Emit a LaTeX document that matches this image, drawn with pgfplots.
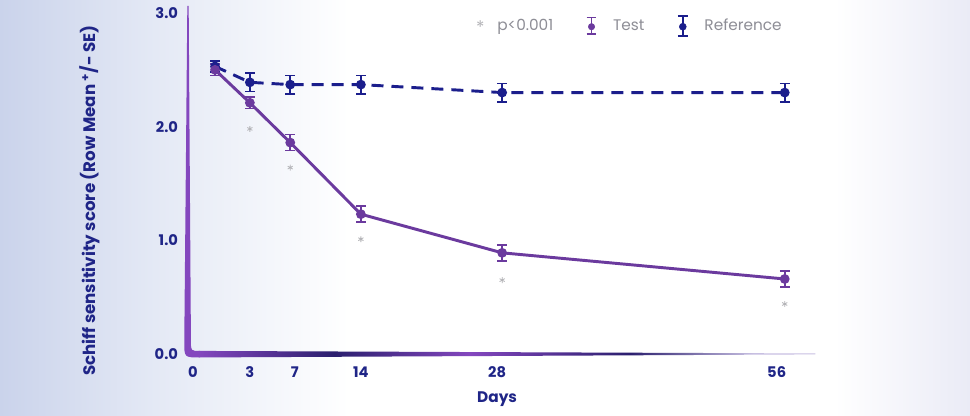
\documentclass[border=0pt]{standalone}
\usepackage{pgfplots}
\pgfplotsset{compat=1.18}
\usepackage{fontspec}
\setmainfont{Poppins}
\definecolor{navyc}{HTML}{1F2587}
\definecolor{testc}{HTML}{6B3A9E}
\definecolor{refc}{HTML}{1B1E8C}
\definecolor{axp}{HTML}{8447BE}
\definecolor{axn}{HTML}{2B1F6E}
\definecolor{axl}{HTML}{C8C0E2}
\definecolor{gtxt}{HTML}{8E8E96}
\definecolor{astc}{HTML}{B4B4B8}
\definecolor{bgl}{HTML}{CAD3EB}
\definecolor{bgm}{HTML}{E4E9F5}
\definecolor{bgr}{HTML}{EAEBF6}
\pgfdeclarehorizontalshading{bgshade}{100bp}{color(0bp)=(bgl); color(25bp)=(bgl); color(33bp)=(bgm); color(43bp)=(white); color(68bp)=(white); color(75bp)=(bgr); color(100bp)=(bgr)}
\pgfdeclarehorizontalshading{axshade}{100bp}{color(0bp)=(axp); color(25bp)=(axp); color(36bp)=(axn); color(47bp)=(axp); color(60bp)=(axn); color(70bp)=(axl); color(75bp)=(axl); color(100bp)=(axl)}
\pgfplotstableread{
x y e
-0.45 2.50 0.05
3 2.21 0.05
7 1.86 0.07
14 1.23 0.07
28 0.89 0.07
56 0.66 0.07
}\testdata
\pgfplotstableread{
x y e
-0.45 2.53 0.05
3 2.39 0.08
7 2.37 0.08
14 2.37 0.08
28 2.30 0.08
56 2.30 0.08
}\refdata
\pgfplotstableread{
x y
3 1.98
7 1.64
14 1.01
28 0.65
56 0.44
}\astdata
\begin{document}
\begin{tikzpicture}
\useasboundingbox (0,0) rectangle (727.5pt,312pt);
\shade[shading=bgshade] (0,0) rectangle (727.5pt,312pt);
% tapered axis lines
\begin{scope}[shift={(141pt,46.5pt)}]
\fill[axp] (-0.5pt,261pt) -- (-2.8pt,9pt) .. controls (-2.8pt,-2.6pt) .. (9pt,-2.6pt) -- (9pt,2.3pt) .. controls (2.2pt,2.3pt) .. (2.2pt,9pt) -- (0.5pt,261pt) -- cycle;
\shade[shading=axshade] (8pt,-2.6pt) -- (470.5pt,-0.3pt) -- (470.5pt,0.4pt) -- (8pt,2.3pt) -- cycle;
\end{scope}
\begin{axis}[
  at={(141pt,46.5pt)}, anchor=south west,
  scale only axis, width=470.25pt, height=255.75pt,
  xmin=-3.13, xmax=59.0, ymin=0, ymax=3.0,
  axis line style={draw=none},
  clip=false,
  major tick length=0pt,
  xtick={-2.64,3,7.45,14,27.5,55.2},
  xticklabels={0,3,7,14,28,56},
  ytick={0,1,2,3},
  yticklabels={0.0,1.0,2.0,3.0},
  xticklabel style={font=\bfseries\fontsize{11}{13}\selectfont, text=navyc, yshift=-6pt},
  yticklabel style={font=\bfseries\fontsize{11}{13}\selectfont, text=navyc, xshift=-4pt},
  xlabel={Days},
  xlabel style={font=\bfseries\fontsize{11.5}{13}\selectfont, text=navyc, at={(rel axis cs:0.493,0)}, anchor=center, yshift=-34pt},
  ylabel={Schiff sensitivity score (Row Mean \textsuperscript{+}/- SE)},
  ylabel style={font=\bfseries\fontsize{12.5}{15}\selectfont, text=navyc, at={(rel axis cs:-0.157,0.45)}, anchor=center, rotate=0},
  legend style={draw=none, fill=none, at={(rel axis cs:0.44,0.962)}, anchor=west,
    font=\fontsize{11.5}{13}\selectfont, text=gtxt,
    /tikz/every even column/.append style={column sep=21pt},
    legend cell align=left},
  legend columns=3,
]
\addlegendimage{legend image code/.code={\path[draw=none,fill=none] (0,-0.1cm) rectangle (0.7cm,0.1cm); \node[text=astc, inner sep=0pt, font=\fontsize{13}{14}\selectfont] at (0.2cm,-0.05cm) {*};}}
\addlegendentry{p<0.001}
\addlegendimage{legend image code/.code={\path[draw=none,fill=none] (0,-0.1cm) rectangle (0.7cm,0.1cm);
  \draw[testc, line width=1.2pt, solid] (0.2cm,-0.22cm) -- (0.2cm,0.22cm);
  \draw[testc, line width=1.2pt, solid] (0.07cm,0.22cm) -- (0.33cm,0.22cm);
  \draw[testc, line width=1.2pt, solid] (0.07cm,-0.22cm) -- (0.33cm,-0.22cm);
  \fill[testc] (0.2cm,-0.02cm) circle (2.4pt);}}
\addlegendentry{Test}
\addlegendimage{legend image code/.code={\path[draw=none,fill=none] (0,-0.1cm) rectangle (0.7cm,0.1cm);
  \draw[refc, line width=1.2pt, solid] (0.2cm,-0.26cm) -- (0.2cm,0.26cm);
  \draw[refc, line width=1.2pt, solid] (0.07cm,0.26cm) -- (0.33cm,0.26cm);
  \draw[refc, line width=1.2pt, solid] (0.07cm,-0.26cm) -- (0.33cm,-0.26cm);
  \fill[refc] (0.2cm,-0.02cm) circle (2.6pt);}}
\addlegendentry{Reference}
\addplot[refc, line width=2.2pt, dash pattern=on 9pt off 6pt, mark=*, mark size=2.5pt, mark options={solid},
  error bars/.cd, y dir=both, y explicit,
  error bar style={line width=1.3pt, solid},
  error mark options={rotate=90, mark size=3.6pt, line width=1.3pt, solid}]
  table[x=x, y=y, y error=e]{\refdata};
\addplot[testc, line width=2.2pt, mark=*, mark size=2.5pt,
  error bars/.cd, y dir=both, y explicit,
  error bar style={line width=1.3pt},
  error mark options={rotate=90, mark size=3.6pt, line width=1.3pt}]
  table[x=x, y=y, y error=e]{\testdata};
\addplot[only marks, mark=asterisk, mark size=2.2pt, astc, mark options={line width=0.6pt}] table[x=x, y=y]{\astdata};
\end{axis}
\end{tikzpicture}
\end{document}
